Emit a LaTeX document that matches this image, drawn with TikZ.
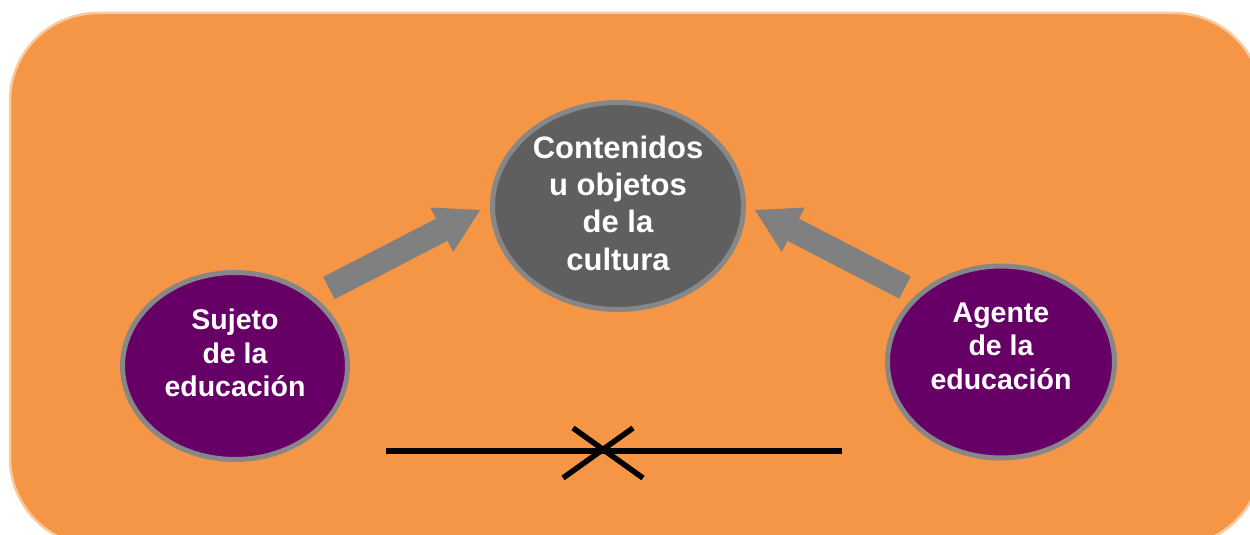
\documentclass[tikz,border=0pt]{standalone}
\usepackage{fontspec}
\setmainfont{Liberation Sans}
\usetikzlibrary{shapes.geometric,calc}
\definecolor{bgorange}{RGB}{245,150,70}
\definecolor{bgedge}{RGB}{250,200,155}
\definecolor{ringgray}{RGB}{135,135,135}
\definecolor{arrowgray}{RGB}{128,128,128}
\definecolor{darkfill}{RGB}{95,95,95}
\definecolor{purplefill}{RGB}{102,0,102}
\newcommand\blockarr[2]{%
  \path ($(#2)!43pt!(#1)$) coordinate (hb#1);
  \fill[arrowgray] ($(#1)!12.5pt!90:(#2)$) -- ($(hb#1)!12.5pt!90:(#2)$) -- ($(hb#1)!25pt!90:(#2)$) -- (#2)
    -- ($(hb#1)!25pt!-90:(#2)$) -- ($(hb#1)!12.5pt!-90:(#2)$) -- ($(#1)!12.5pt!-90:(#2)$) -- cycle;
}
\begin{document}
\begin{tikzpicture}[x=1pt,y=-1pt,
  ell/.style={ellipse, draw=ringgray, line width=5pt, inner sep=0pt},
  centerell/.style={ell, fill=darkfill, minimum width=251pt, minimum height=207pt},
  sideell/.style={ell, fill=purplefill},
  bigtxt/.style={text=white, align=center, font=\bfseries\fontsize{31}{37.3}\selectfont, inner sep=0pt},
  smalltxt/.style={text=white, align=center, font=\bfseries\fontsize{28.5}{33.5}\selectfont, inner sep=0pt},
  barline/.style={line width=5.5pt, black}]
\useasboundingbox (0,0) rectangle (1250,535);
\clip (0,0) rectangle (1250,535);
\fill[bgorange, draw=bgedge, line width=2.5pt, rounded corners=88pt] (10,13) rectangle (1262,546);

\node[centerell] (cont) at (618,206) {};
\node[sideell, minimum width=225pt, minimum height=187pt] (suj) at (235,366) {};
\node[sideell, minimum width=227pt, minimum height=192pt] (age) at (1001,362) {};

\node[bigtxt] (contT) at (618,203) {Contenidos\\u objetos\\de la\\cultura};
\node[smalltxt] (sujT) at (235,353) {Sujeto\\de la\\educación};
\node[smalltxt] (ageT) at (1001,346) {Agente\\de la\\educación};

\coordinate (lt) at (329,288);
\coordinate (lp) at (480,210);
\coordinate (rt) at (905,287.5);
\coordinate (rp) at (755,210);
\blockarr{lt}{lp}
\blockarr{rt}{rp}

\coordinate (la) at (386,451);
\coordinate (lb) at (842,451);
\coordinate (x1) at (573,428);
\coordinate (x2) at (643,478);
\coordinate (x3) at (633,428);
\coordinate (x4) at (563,478);
\draw[barline] (la) -- (lb);
\draw[barline] (x1) -- (x2);
\draw[barline] (x3) -- (x4);
\end{tikzpicture}
\end{document}
